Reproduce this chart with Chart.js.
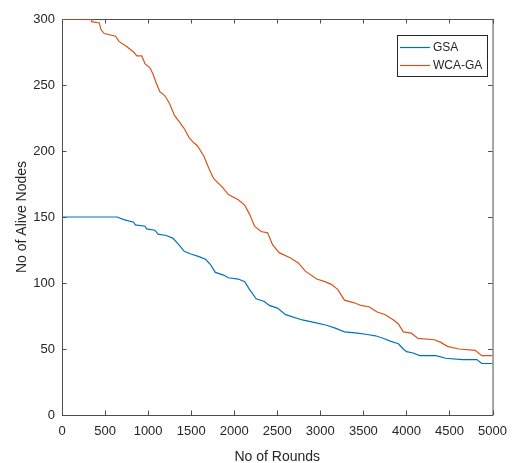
<!DOCTYPE html>
<html>
<head>
<meta charset="utf-8">
<script src="https://cdn.jsdelivr.net/npm/chart.js@4.4.1/dist/chart.umd.min.js"></script>
<style>
  html, body { margin: 0; padding: 0; background: #fff; }
  canvas { display: block; }
</style>
</head>
<body>
<canvas id="myChart" width="516" height="463"></canvas>
<script>
// values (round, alive nodes)
var gsaRounds = [0, 641, 718, 831, 851, 965, 983, 1079, 1116, 1211, 1287, 1344, 1420, 1496, 1591, 1667, 1724, 1781, 1876, 1933, 2047, 2122, 2179, 2255, 2350, 2407, 2502, 2597, 2790, 2939, 3072, 3166, 3280, 3432, 3546, 3641, 3736, 3812, 3907, 3964, 4001, 4077, 4154, 4343, 4457, 4647, 4818, 4875, 5000]
var gsaAlive = [150, 150, 148, 146, 144, 143, 141, 140, 137, 136, 134, 130, 124, 122, 120, 118, 114, 108, 106, 104, 103, 101, 95, 88, 86, 83, 81, 76, 72, 70, 68, 66, 63, 62, 61, 60, 58, 56, 54, 50, 48, 47, 45, 45, 43, 42, 42, 39, 39]

var wcaRounds = [0, 340, 345, 433, 452, 490, 623, 661, 755, 831, 869, 926, 965, 1022, 1059, 1097, 1136, 1193, 1249, 1306, 1363, 1420, 1477, 1534, 1572, 1648, 1705, 1762, 1857, 1933, 2047, 2122, 2179, 2236, 2312, 2388, 2445, 2521, 2654, 2748, 2825, 2958, 3052, 3129, 3204, 3280, 3394, 3470, 3565, 3660, 3755, 3850, 3907, 3964, 4058, 4134, 4324, 4400, 4476, 4609, 4799, 4875, 5000]
var wcaAlive = [300, 300, 298, 297, 292, 289, 287, 283, 279, 275, 272, 272, 266, 263, 258, 251, 245, 242, 236, 227, 222, 217, 210, 206, 204, 196, 187, 179, 173, 167, 163, 159, 152, 143, 139, 138, 129, 123, 119, 115, 109, 103, 101, 99, 95, 87, 85, 83, 82, 78, 76, 72, 69, 63, 62, 58, 57, 55, 52, 50, 49, 45, 45]

var seriesNames = ['GSA', 'WCA-GA']
var xTitle = 'No of Rounds'
var yTitle = 'No of Alive Nodes'

var textColor = '#262626'
var axisColor = '#4d4d4d'

function toPoints(xs, ys) {
    var pts = []
    for (var i = 0; i < xs.length; i++) {
        pts.push({x: xs[i], y: ys[i]})
    }
    return pts
}

// box round the axes with inward ticks, like matlab
var boxPlugin = {
    id: 'box',
    beforeDatasetsDraw: function(chart) {
        var ctx = chart.ctx
        var a = chart.chartArea
        var xs = chart.scales.x, ys = chart.scales.y
        var len = 4.5
        ctx.save()
        ctx.strokeStyle = axisColor
        ctx.lineWidth = 1
        ctx.beginPath()
        ctx.rect(a.left + 0.5, a.top + 0.5, a.right - a.left, a.bottom - a.top)
        xs.ticks.forEach(function(t) {
            var px = Math.round(xs.getPixelForValue(t.value)) + 0.5
            ctx.moveTo(px, a.bottom)
            ctx.lineTo(px, a.bottom - len)
            ctx.moveTo(px, a.top)
            ctx.lineTo(px, a.top + len)
        })
        ys.ticks.forEach(function(t) {
            var py = Math.round(ys.getPixelForValue(t.value)) + 0.5
            ctx.moveTo(a.left, py)
            ctx.lineTo(a.left + len, py)
            ctx.moveTo(a.right, py)
            ctx.lineTo(a.right - len, py)
        })
        ctx.stroke()
        ctx.restore()
    },
    afterDraw: function(chart) {
        // legend box in the top right corner
        var ctx = chart.ctx
        var lx = 397, ly = 35, lw = 90, lh = 41
        ctx.save()
        ctx.fillStyle = '#fff'
        ctx.fillRect(lx, ly, lw, lh)
        ctx.strokeStyle = textColor
        ctx.lineWidth = 1
        ctx.strokeRect(lx + 0.5, ly + 0.5, lw, lh)
        ctx.font = '12px "Liberation Sans", Arial, sans-serif'
        ctx.textBaseline = 'middle'
        chart.data.datasets.forEach(function(ds, i) {
            var yy = ly + 12 + i * 18
            ctx.strokeStyle = ds.borderColor
            ctx.lineWidth = 1.2
            ctx.beginPath()
            ctx.moveTo(lx + 3, yy + 0.5)
            ctx.lineTo(lx + 33, yy + 0.5)
            ctx.stroke()
            ctx.fillStyle = textColor
            ctx.fillText(ds.label, lx + 36, yy + 1)
        })
        ctx.restore()
    }
}

var ctx = document.getElementById('myChart').getContext('2d')
var chart = new Chart(ctx, {
    type: 'line',
    data: {
        datasets: [{
            label: seriesNames[0],
            data: toPoints(gsaRounds, gsaAlive),
            borderColor: '#0072BD',
            borderWidth: 1.2,
            tension: 0,
            pointRadius: 0,
            fill: false
        }, {
            label: seriesNames[1],
            data: toPoints(wcaRounds, wcaAlive),
            borderColor: '#D95319',
            borderWidth: 1.2,
            tension: 0,
            pointRadius: 0,
            fill: false
        }]
    },
    options: {
        responsive: false,
        animation: false,
        devicePixelRatio: 1,
        layout: { padding: { left: 0, top: 19, right: 15, bottom: 0 } },
        plugins: {
            legend: { display: false },
            tooltip: { enabled: false }
        },
        scales: {
            x: {
                type: 'linear',
                min: 0,
                max: 5000,
                afterFit: function(s) { s.height = 48 },
                grid: { display: false, drawTicks: false },
                border: { display: false },
                ticks: {
                    stepSize: 500,
                    padding: 9,
                    color: textColor,
                    font: { family: '"Liberation Sans", Arial, sans-serif', size: 13 },
                    maxRotation: 0,
                    callback: function(v) { return String(v) }
                },
                title: {
                    display: true,
                    text: xTitle,
                    color: textColor,
                    font: { family: '"Liberation Sans", Arial, sans-serif', size: 14, lineHeight: 0.8 },
                    padding: { top: 0, bottom: 0 }
                }
            },
            y: {
                type: 'linear',
                min: 0,
                max: 300,
                afterFit: function(s) { s.width = 62 },
                grid: { display: false, drawTicks: false },
                border: { display: false },
                ticks: {
                    stepSize: 50,
                    padding: 7,
                    color: textColor,
                    font: { family: '"Liberation Sans", Arial, sans-serif', size: 13 },
                    callback: function(v) { return String(v) }
                },
                title: {
                    display: true,
                    text: yTitle,
                    color: textColor,
                    font: { family: '"Liberation Sans", Arial, sans-serif', size: 14, lineHeight: 1.2 },
                    padding: { top: 14, bottom: 0 }
                }
            }
        }
    },
    plugins: [boxPlugin]
})
</script>
</body>
</html>
